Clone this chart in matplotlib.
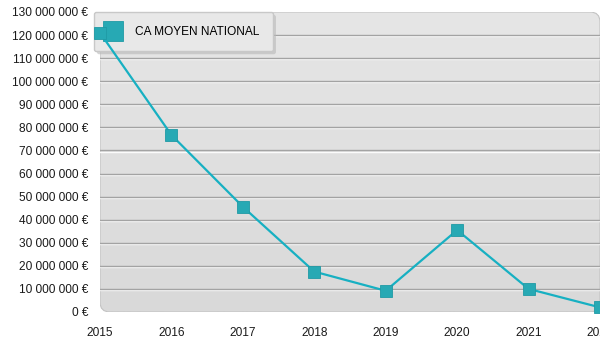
import numpy as np
import matplotlib.pyplot as plt
import matplotlib.patheffects as pe
from matplotlib.patches import FancyBboxPatch
from matplotlib.lines import Line2D
from matplotlib.colors import LinearSegmentedColormap
from matplotlib.ticker import FuncFormatter

# chiffre d'affaires moyen national par année
annees = [2015, 2016, 2017, 2018, 2019, 2020, 2021, 2022]
ca_moyen = [121.0e6, 76.7e6, 45.6e6, 17.5e6, 9.2e6, 35.5e6, 10.0e6, 2.0e6]
graduations = list(range(0, 130_000_001, 10_000_000))
etiquette_serie = "CA MOYEN NATIONAL"

plt.rcParams['font.family'] = ['Liberation Sans', 'DejaVu Sans']

fig = plt.figure(figsize=(6, 3.5), dpi=100)
ax = fig.add_axes([100 / 600, 38 / 350, 500 / 600, 300 / 350])
ax.set_xlim(annees[0], annees[-1])
ax.set_ylim(graduations[0], graduations[-1])
ax.patch.set_visible(False)
for s in ax.spines.values():
    s.set_visible(False)

# fond gris en dégradé, coins arrondis
fond = FancyBboxPatch((0, 0), 1, 1, boxstyle='round,pad=0,rounding_size=0.02',
                      mutation_aspect=500 / 300, transform=ax.transAxes,
                      facecolor='none', edgecolor='#c2c2c2', lw=0.8, zorder=0.5)
ax.add_patch(fond)
degrade = np.linspace(0, 1, 256).reshape(-1, 1)
cmap = LinearSegmentedColormap.from_list('fond', ['#d9d9d9', '#e6e6e6'])
img = ax.imshow(degrade, extent=[annees[0], annees[-1], graduations[0], graduations[-1]],
                aspect='auto', cmap=cmap, origin='lower', zorder=0)
img.set_clip_path(fond)

# lignes de grille avec un petit reflet blanc
for g in graduations[1:-1]:
    ax.axhline(g, color='#a3a3a3', lw=1, zorder=1,
               path_effects=[pe.SimpleLineShadow(offset=(0, -0.8), shadow_color='white', alpha=0.9),
                             pe.Normal()])

ax.plot(annees, ca_moyen, color='#17b0c2', lw=1.6, marker='s', markersize=8.5,
        markerfacecolor='#27a9b4', markeredgecolor='#1f9aa5', markeredgewidth=0.6,
        zorder=3, clip_on=False)

ax.set_xticks(annees)
ax.set_yticks(graduations)
ax.yaxis.set_major_formatter(FuncFormatter(lambda v, p: f"{int(v):,}".replace(',', ' ') + " €"))
ax.tick_params(axis='both', length=0, labelsize=8.6, labelcolor='#1a1a1a')
ax.tick_params(axis='y', pad=8.6)
ax.tick_params(axis='x', pad=11)

poignee = Line2D([], [], ls='none', marker='s', markersize=14,
                 markerfacecolor='#27a9b4', markeredgecolor='#1f9aa5', markeredgewidth=0.6)
leg = ax.legend([poignee], [etiquette_serie], loc='upper left',
                bbox_to_anchor=(94 / 600, 1 - 12 / 350), bbox_transform=fig.transFigure,
                fontsize=8.6, frameon=True, fancybox=True,
                shadow={'facecolor': '#b8b8b8', 'edgecolor': 'none', 'alpha': 0.6},
                framealpha=1, facecolor='#e8e8e8', edgecolor='#c8c8c8', borderpad=1.15,
                handlelength=0.96, handletextpad=1.33, borderaxespad=0)
leg.set_zorder(2)

fig.savefig('out.png', dpi=100)
